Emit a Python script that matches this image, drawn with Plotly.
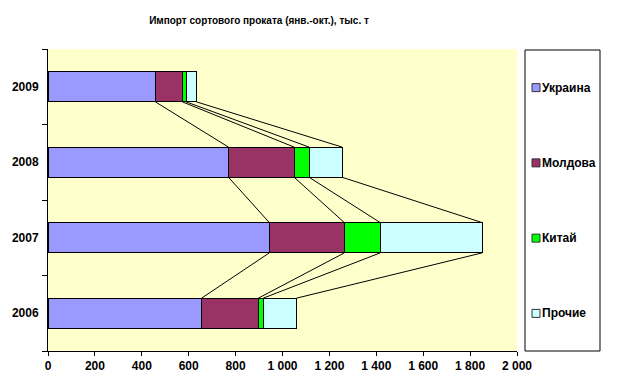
import plotly.graph_objects as go

years = ["2006", "2007", "2008", "2009"]
series_names = ["Украина", "Молдова", "Китай", "Прочие"]
ukraine = [655, 944, 770, 458]
moldova = [242, 320, 280, 115]
china = [21, 153, 64, 16]
others = [142, 435, 141, 44]
x_ticks = [0, 200, 400, 600, 800, 1000, 1200, 1400, 1600, 1800, 2000]
x_ticktext = ["0", "200", "400", "600", "800", "1 000", "1 200", "1 400", "1 600", "1 800", "2 000"]
title_text = "Импорт сортового проката (янв.-окт.), тыс. т"

colors = ["#9999FF", "#993366", "#00FF00", "#CCFFFF"]
values = [ukraine, moldova, china, others]
ypos = list(range(len(years)))
bar_w = 0.4

OFF = 8  # page body margin
W, H = 623 - OFF, 387 - OFF
ML, MR, MT, MB = 48 - OFF, 106, 49 - OFF, 36
FONT = "Liberation Sans, Arial, sans-serif"

fig = go.Figure()
for name, vals, col in zip(series_names, values, colors):
    fig.add_trace(go.Bar(
        y=ypos, x=vals, orientation="h", name=name, width=bar_w,
        marker=dict(color=col, line=dict(color="black", width=1)),
        showlegend=False, hoverinfo="x+name"))

# series lines between consecutive bars
cum = []
run = [0] * len(years)
for vals in values:
    run = [r + v for r, v in zip(run, vals)]
    cum.append(run)
lx, ly = [], []
for c in cum:
    for i in range(len(years) - 1, 0, -1):
        lx += [c[i], c[i - 1], None]
        ly += [i - bar_w / 2, i - 1 + bar_w / 2, None]
fig.add_trace(go.Scatter(x=lx, y=ly, mode="lines", line=dict(color="black", width=1),
                         showlegend=False, hoverinfo="skip"))

pw = W - ML - MR
ph = H - MT - MB
# page pixel -> paper fraction
def px(x):
    return (x - OFF - ML) / pw
def py(y):
    return (H - MB - (y - OFF)) / ph

shapes = []
annotations = []
# manual legend
shapes.append(dict(type="rect", xref="paper", yref="paper", x0=px(525), x1=px(600),
                   y0=py(351), y1=py(50), line=dict(color="black", width=1), fillcolor="white", layer="above"))
top, bot = 50, 351
step = (bot - top) / len(series_names)
for k, (name, col) in enumerate(zip(series_names, colors)):
    cy = top + step * (k + 0.5)
    shapes.append(dict(type="rect", xref="paper", yref="paper", x0=px(532), x1=px(540),
                       y0=py(cy + 4), y1=py(cy - 4), line=dict(color="#333333", width=1), fillcolor=col))
    annotations.append(dict(text="<b>" + name + "</b>", xref="paper", yref="paper", x=px(540), y=py(cy),
                            xanchor="left", yanchor="middle", showarrow=False,
                            font=dict(family=FONT, size=12, color="black")))

fig.update_layout(
    width=W, height=H,
    margin=dict(l=ML, r=MR, t=MT, b=MB),
    paper_bgcolor="white", plot_bgcolor="#FFFFCC",
    barmode="stack", showlegend=False,
    title=dict(text="<b>" + title_text + "</b>", x=(259 - OFF) / W, xanchor="center",
               y=1 - (20 - OFF) / H, yanchor="middle",
               font=dict(family=FONT, size=10, color="black")),
    font=dict(family=FONT, size=12, color="black"),
    shapes=shapes, annotations=annotations,
    xaxis=dict(range=[0, 2000], tickvals=x_ticks, ticktext=["<b>" + t + "</b>" for t in x_ticktext],
               showgrid=False, zeroline=False, showline=True, linecolor="black", linewidth=1,
               ticks="outside", ticklen=4, tickcolor="black", tickfont=dict(size=12), automargin=False),
    yaxis=dict(range=[-0.5, 3.5], tickvals=ypos, ticktext=["<b>" + y + "</b>" for y in years],
               showgrid=False, zeroline=False, showline=True, linecolor="black", linewidth=1,
               ticks="", ticklabelstandoff=6, tickfont=dict(size=12), automargin=False,
               minor=dict(tickvals=[-0.5, 0.5, 1.5, 2.5, 3.5], ticks="outside", ticklen=5, tickcolor="black",
                          showgrid=False)),
)

fig.write_html("out.html")
